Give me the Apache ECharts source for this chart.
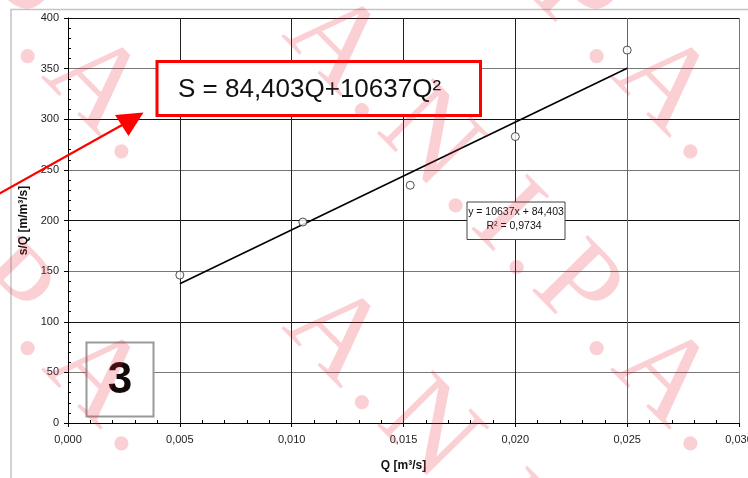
<!DOCTYPE html>
<html><head><meta charset="utf-8">
<script src="https://cdn.jsdelivr.net/npm/echarts@6/dist/echarts.min.js"></script>
<style>html,body{margin:0;padding:0;background:#fff}#c{width:748px;height:478px}</style>
</head><body><div id="c"></div>
<script>
// ---- data ----
const xValues = [0.0050, 0.0105, 0.0153, 0.0200, 0.0250];
const yValues = [146.1, 198.5, 234.8, 282.9, 368.3];
const trendX = [0.005, 0.025];
const trendY = [137.6, 350.3];
const xMin = 0, xMax = 0.03, xStep = 0.005;
const yMin = 0, yMax = 400, yStep = 50;
const xTitle = 'Q [m³/s]';
const yTitle = 's/Q [m/m³/s]';
const equationText = 'S = 84,403Q+10637Q²';
const trendLabel = ['y = 10637x + 84,403', 'R² = 0,9734'];
const panelNumber = '3';
const watermarkWord = 'A.N.I.P.A.';

// ---- build ----
const chart = echarts.init(document.getElementById('c'), null, {renderer: 'canvas'});

const points = xValues.map((x, i) => [x, yValues[i]]);
const trend = trendX.map((x, i) => [x, trendY[i]]);

// watermark layout (decoration)
const wmFont = 120, wmGap = 8.5, wmAng = 45.4 * Math.PI / 180;
const ux = Math.cos(wmAng), uy = Math.sin(wmAng);
const vx = Math.sin(wmAng), vy = -Math.cos(wmAng);
const adv = {A: 0.722, N: 0.722, I: 0.333, P: 0.556, '.': 0.25};
const wmStart = [274, 42];
const wmOffsets = [[0, -292], [0, 0], [0, 292], [-569, -292], [-569, 0]];
const wmEls = [];
wmOffsets.forEach(([ox, oy]) => {
  let cum = 0;
  for (const ch of watermarkWord) {
    const a = adv[ch] * wmFont;
    const s = cum + a / 2;
    const bx = wmStart[0] + ox + ux * s + vx * 0.34 * wmFont;
    const by = wmStart[1] + oy + uy * s + vy * 0.34 * wmFont;
    wmEls.push({
      type: 'text', x: bx, y: by, rotation: -wmAng, z: 200, silent: true,
      style: {text: ch, fontFamily: 'Liberation Serif', fontSize: wmFont,
        fill: 'rgba(235,40,60,0.22)', align: 'center', verticalAlign: 'middle',
        textAlign: 'center', textVerticalAlign: 'middle'}
    });
    cum += a + wmGap;
  }
});

const option = {
  backgroundColor: '#fff',
  animation: false,
  grid: {left: 68, right: 9, top: 18, bottom: 55, containLabel: false, outerBoundsMode: 'none'},
  xAxis: {
    type: 'value', min: xMin, max: xMax, interval: xStep,
    name: xTitle, nameLocation: 'middle', nameGap: 37,
    nameTextStyle: {fontFamily: 'Liberation Sans', fontSize: 12, fontWeight: 'bold', color: '#111'},
    axisLine: {show: true, onZero: false, lineStyle: {color: '#000', width: 1}},
    axisTick: {show: true, length: 4, lineStyle: {color: '#000'}},
    minorTick: {show: true, splitNumber: 5, length: -3, lineStyle: {color: '#000'}},
    axisLabel: {fontFamily: 'Liberation Sans', fontSize: 11, color: '#222', margin: 11,
      formatter: v => v.toFixed(3).replace('.', ',')},
    splitLine: {show: true, lineStyle: {color: ['#222', '#222', '#222', '#222', '#222', '#666', '#777'], width: 1}}
  },
  yAxis: {
    type: 'value', min: yMin, max: yMax, interval: yStep,
    name: yTitle, nameLocation: 'middle', nameGap: 37, nameRotate: 90,
    nameTextStyle: {fontFamily: 'Liberation Sans', fontSize: 12, fontWeight: 'bold', color: '#111'},
    axisLine: {show: true, onZero: false, lineStyle: {color: '#000', width: 1}},
    axisTick: {show: true, length: 4, lineStyle: {color: '#000'}},
    minorTick: {show: true, splitNumber: 5, length: -3, lineStyle: {color: '#000'}},
    axisLabel: {fontFamily: 'Liberation Sans', fontSize: 11, color: '#222', margin: 9},
    splitLine: {show: true, lineStyle: {color: ['#111', '#777'], width: 1}}
  },
  series: [
    {type: 'line', data: trend, showSymbol: false, symbol: 'none', z: 3,
      lineStyle: {color: '#000', width: 1.6}},
    {type: 'scatter', data: points, symbol: 'circle', symbolSize: 8, z: 4,
      itemStyle: {color: '#fff', borderColor: '#222', borderWidth: 1}}
  ],
  graphic: [
    // chart area frame
    {type: 'rect', z: 1, silent: true, shape: {x: 11, y: 9.5, width: 760, height: 500},
      style: {fill: 'none', stroke: '#c4c4c4', lineWidth: 1.5}},
    // red equation box
    {type: 'rect', z: 50, shape: {x: 157, y: 61.5, width: 323.5, height: 54},
      style: {fill: '#fff', stroke: '#ff0000', lineWidth: 3}},
    {type: 'text', z: 51, x: 178, y: 90,
      style: {text: equationText, fontFamily: 'Liberation Sans', fontSize: 26, fill: '#111',
        align: 'left', verticalAlign: 'middle', textAlign: 'left', textVerticalAlign: 'middle'}},
    // red arrow
    {type: 'polyline', z: 50, shape: {points: [[-5, 196], [123, 124.5]]},
      style: {stroke: '#ff0000', lineWidth: 2.2, fill: 'none'}},
    {type: 'polygon', z: 50, shape: {points: [[115, 115], [143.5, 112.5], [128.5, 136]]},
      style: {fill: '#ff0000'}},
    // trendline label
    {type: 'rect', z: 50, shape: {x: 467, y: 202, width: 98, height: 37.5},
      style: {fill: '#fff', stroke: '#444', lineWidth: 1}},
    {type: 'text', z: 51, x: 516, y: 212,
      style: {text: trendLabel[0], fontFamily: 'Liberation Sans', fontSize: 10.5, fill: '#111',
        align: 'center', verticalAlign: 'middle', textAlign: 'center', textVerticalAlign: 'middle'}},
    {type: 'text', z: 51, x: 514, y: 226,
      style: {text: trendLabel[1], fontFamily: 'Liberation Sans', fontSize: 10.5, fill: '#111',
        align: 'center', verticalAlign: 'middle', textAlign: 'center', textVerticalAlign: 'middle'}},
    // panel number box
    {type: 'rect', z: 50, shape: {x: 86.5, y: 342.5, width: 67, height: 74},
      style: {fill: '#fff', stroke: '#999', lineWidth: 2}},
    {type: 'text', z: 51, x: 120, y: 381,
      style: {text: panelNumber, fontFamily: 'Liberation Sans', fontSize: 44, fontWeight: 'bold', fill: '#140808',
        align: 'center', verticalAlign: 'middle', textAlign: 'center', textVerticalAlign: 'middle'}}
  ].concat(wmEls)
};
chart.setOption(option);
</script>
</body></html>
